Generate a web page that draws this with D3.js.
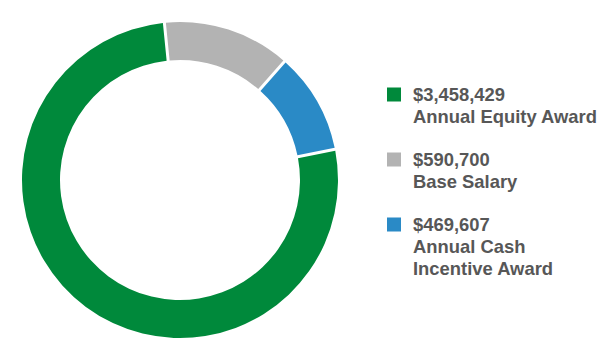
<!DOCTYPE html>
<html>
<head>
<meta charset="utf-8">
<script src="https://cdn.jsdelivr.net/npm/d3@7"></script>
<style>
  html, body { margin: 0; padding: 0; background: #fff; }
  svg { display: block; }
</style>
</head>
<body>
<svg id="chart" width="600" height="360"></svg>
<script>
const categories = ["Annual Equity Award", "Base Salary", "Annual Cash Incentive Award"];
const values = [3458429, 590700, 469607];
const valueLabels = ["$3,458,429", "$590,700", "$469,607"];
const labelLines = [["Annual Equity Award"], ["Base Salary"], ["Annual Cash", "Incentive Award"]];
const colors = ["#00893b", "#b3b3b3", "#2a8ac6"];

const svg = d3.select("#chart");
const cx = 180, cy = 180, outerR = 158, innerR = 120;
const startDeg = 78.8;

const data = categories.map((c, i) => ({ name: c, value: values[i], color: colors[i] }));

const pie = d3.pie()
  .sort(null)
  .value(d => d.value)
  .startAngle(startDeg * Math.PI / 180)
  .endAngle((startDeg + 360) * Math.PI / 180);

const arc = d3.arc()
  .innerRadius(innerR)
  .outerRadius(outerR)
  .padRadius(140)
  .padAngle(3 / 140);

svg.append("g")
  .attr("transform", `translate(${cx},${cy})`)
  .selectAll("path")
  .data(pie(data))
  .join("path")
  .attr("d", arc)
  .attr("fill", d => d.data.color);

// Legend
const legendX = 387, firstBaseline = 101, groupStep = 65, lineH = 22;
const lg = svg.append("g").attr("font-family", "'Liberation Sans', Arial, sans-serif")
  .attr("font-weight", "bold").attr("font-size", 18.4).attr("fill", "#575757");

data.forEach((d, i) => {
  const by = firstBaseline + i * groupStep;
  lg.append("rect")
    .attr("x", legendX).attr("y", by - 13.5)
    .attr("width", 14).attr("height", 14)
    .attr("fill", d.color);
  const t = lg.append("text").attr("x", legendX + 26).attr("y", by);
  t.append("tspan").attr("x", legendX + 26).attr("y", by).text(valueLabels[i]);
  labelLines[i].forEach((ln, j) => {
    t.append("tspan").attr("x", legendX + 26).attr("y", by + (j + 1) * lineH).text(ln);
  });
});
</script>
</body>
</html>
